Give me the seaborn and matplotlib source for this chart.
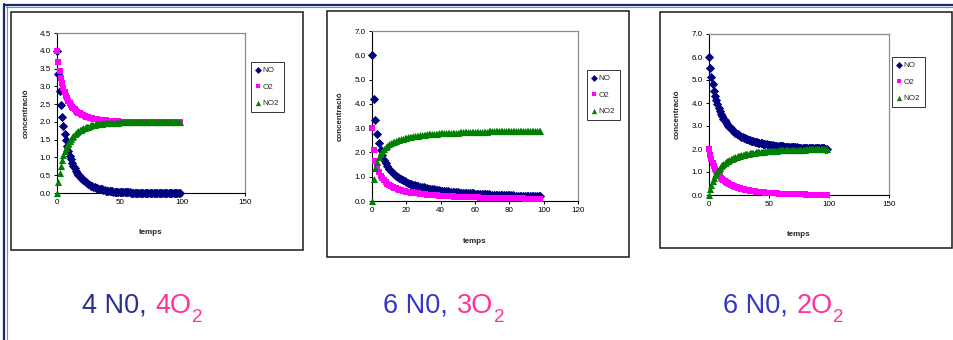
import numpy as np
import matplotlib
matplotlib.use("Agg")
import matplotlib.pyplot as plt
from matplotlib.lines import Line2D
from matplotlib.patches import Rectangle
import seaborn as sns

# ---- data (one point per time step) ----
# chart 1 : 4 NO, 4 O2
no_1 = [4.00, 3.36, 2.87, 2.47, 2.15, 1.89, 1.67, 1.48, 1.32, 1.18,
        1.05, 0.95, 0.85, 0.77, 0.70, 0.63, 0.57, 0.52, 0.47, 0.43,
        0.39, 0.36, 0.33, 0.30, 0.27, 0.25, 0.23, 0.21, 0.19, 0.18,
        0.16, 0.15, 0.14, 0.12, 0.11, 0.10, 0.10, 0.09, 0.08, 0.07,
        0.07, 0.06, 0.06, 0.05, 0.05, 0.04, 0.04, 0.04, 0.03, 0.03,
        0.03, 0.03, 0.02, 0.02, 0.02, 0.02, 0.02, 0.02, 0.02, 0.01,
        0.01, 0.01, 0.01, 0.01, 0.01, 0.01, 0.01, 0.01, 0.01, 0.01,
        0.01, 0.00, 0.00, 0.00, 0.00, 0.00, 0.00, 0.00, 0.00, 0.00,
        0.00, 0.00, 0.00, 0.00, 0.00, 0.00, 0.00, 0.00, 0.00, 0.00,
        0.00, 0.00, 0.00, 0.00, 0.00, 0.00, 0.00, 0.00, 0.00]
o2_1 = [4.00, 3.68, 3.43, 3.24, 3.08, 2.94, 2.83, 2.74, 2.66, 2.59,
        2.53, 2.47, 2.43, 2.39, 2.35, 2.32, 2.29, 2.26, 2.24, 2.22,
        2.20, 2.18, 2.16, 2.15, 2.14, 2.13, 2.11, 2.10, 2.10, 2.09,
        2.08, 2.07, 2.07, 2.06, 2.06, 2.05, 2.05, 2.04, 2.04, 2.04,
        2.03, 2.03, 2.03, 2.03, 2.02, 2.02, 2.02, 2.02, 2.02, 2.02,
        2.01, 2.01, 2.01, 2.01, 2.01, 2.01, 2.01, 2.01, 2.01, 2.01,
        2.01, 2.01, 2.01, 2.01, 2.01, 2.01, 2.00, 2.00, 2.00, 2.00,
        2.00, 2.00, 2.00, 2.00, 2.00, 2.00, 2.00, 2.00, 2.00, 2.00,
        2.00, 2.00, 2.00, 2.00, 2.00, 2.00, 2.00, 2.00, 2.00, 2.00,
        2.00, 2.00, 2.00, 2.00, 2.00, 2.00, 2.00, 2.00, 2.00]
no2_1 = [0.00, 0.32, 0.57, 0.76, 0.92, 1.06, 1.17, 1.26, 1.34, 1.41,
         1.47, 1.53, 1.57, 1.61, 1.65, 1.68, 1.71, 1.74, 1.76, 1.78,
         1.80, 1.82, 1.84, 1.85, 1.86, 1.87, 1.89, 1.90, 1.90, 1.91,
         1.92, 1.93, 1.93, 1.94, 1.94, 1.95, 1.95, 1.96, 1.96, 1.96,
         1.97, 1.97, 1.97, 1.97, 1.98, 1.98, 1.98, 1.98, 1.98, 1.98,
         1.99, 1.99, 1.99, 1.99, 1.99, 1.99, 1.99, 1.99, 1.99, 1.99,
         1.99, 1.99, 1.99, 1.99, 1.99, 1.99, 2.00, 2.00, 2.00, 2.00,
         2.00, 2.00, 2.00, 2.00, 2.00, 2.00, 2.00, 2.00, 2.00, 2.00,
         2.00, 2.00, 2.00, 2.00, 2.00, 2.00, 2.00, 2.00, 2.00, 2.00,
         2.00, 2.00, 2.00, 2.00, 2.00, 2.00, 2.00, 2.00, 2.00]

# chart 2 : 6 NO, 3 O2
no_2 = [6.00, 4.20, 3.32, 2.77, 2.39, 2.10, 1.88, 1.70, 1.56, 1.44,
        1.33, 1.25, 1.17, 1.10, 1.04, 0.99, 0.94, 0.89, 0.85, 0.82,
        0.78, 0.75, 0.72, 0.70, 0.67, 0.65, 0.63, 0.61, 0.59, 0.57,
        0.56, 0.54, 0.53, 0.51, 0.50, 0.49, 0.48, 0.46, 0.45, 0.44,
        0.43, 0.42, 0.42, 0.41, 0.40, 0.39, 0.38, 0.38, 0.37, 0.36,
        0.36, 0.35, 0.34, 0.34, 0.33, 0.33, 0.32, 0.32, 0.31, 0.31,
        0.30, 0.30, 0.29, 0.29, 0.28, 0.28, 0.28, 0.27, 0.27, 0.26,
        0.26, 0.26, 0.25, 0.25, 0.25, 0.24, 0.24, 0.24, 0.24, 0.23,
        0.23, 0.23, 0.23, 0.22, 0.22, 0.22, 0.22, 0.21, 0.21, 0.21,
        0.21, 0.20, 0.20, 0.20, 0.20, 0.20, 0.19, 0.19, 0.19]
o2_2 = [3.00, 2.10, 1.66, 1.38, 1.19, 1.05, 0.94, 0.85, 0.78, 0.72,
        0.67, 0.62, 0.58, 0.55, 0.52, 0.49, 0.47, 0.45, 0.43, 0.41,
        0.39, 0.38, 0.36, 0.35, 0.34, 0.33, 0.32, 0.31, 0.30, 0.29,
        0.28, 0.27, 0.26, 0.26, 0.25, 0.24, 0.24, 0.23, 0.23, 0.22,
        0.22, 0.21, 0.21, 0.20, 0.20, 0.20, 0.19, 0.19, 0.18, 0.18,
        0.18, 0.17, 0.17, 0.17, 0.17, 0.16, 0.16, 0.16, 0.16, 0.15,
        0.15, 0.15, 0.15, 0.14, 0.14, 0.14, 0.14, 0.14, 0.13, 0.13,
        0.13, 0.13, 0.13, 0.13, 0.12, 0.12, 0.12, 0.12, 0.12, 0.12,
        0.12, 0.11, 0.11, 0.11, 0.11, 0.11, 0.11, 0.11, 0.11, 0.10,
        0.10, 0.10, 0.10, 0.10, 0.10, 0.10, 0.10, 0.10, 0.10]
no2_2 = [0.00, 0.90, 1.34, 1.62, 1.81, 1.95, 2.06, 2.15, 2.22, 2.28,
         2.33, 2.38, 2.42, 2.45, 2.48, 2.51, 2.53, 2.55, 2.57, 2.59,
         2.61, 2.62, 2.64, 2.65, 2.66, 2.67, 2.68, 2.69, 2.70, 2.71,
         2.72, 2.73, 2.74, 2.74, 2.75, 2.76, 2.76, 2.77, 2.77, 2.78,
         2.78, 2.79, 2.79, 2.80, 2.80, 2.80, 2.81, 2.81, 2.82, 2.82,
         2.82, 2.83, 2.83, 2.83, 2.83, 2.84, 2.84, 2.84, 2.84, 2.85,
         2.85, 2.85, 2.85, 2.86, 2.86, 2.86, 2.86, 2.86, 2.87, 2.87,
         2.87, 2.87, 2.87, 2.87, 2.88, 2.88, 2.88, 2.88, 2.88, 2.88,
         2.88, 2.89, 2.89, 2.89, 2.89, 2.89, 2.89, 2.89, 2.89, 2.90,
         2.90, 2.90, 2.90, 2.90, 2.90, 2.90, 2.90, 2.90, 2.90]

# chart 3 : 6 NO, 2 O2
no_3 = [6.00, 5.52, 5.13, 4.81, 4.54, 4.31, 4.11, 3.94, 3.78, 3.65,
        3.53, 3.42, 3.32, 3.24, 3.16, 3.08, 3.02, 2.96, 2.90, 2.85,
        2.80, 2.75, 2.71, 2.67, 2.64, 2.60, 2.57, 2.54, 2.52, 2.49,
        2.47, 2.44, 2.42, 2.40, 2.38, 2.36, 2.35, 2.33, 2.31, 2.30,
        2.29, 2.27, 2.26, 2.25, 2.24, 2.23, 2.22, 2.21, 2.20, 2.19,
        2.18, 2.17, 2.17, 2.16, 2.15, 2.15, 2.14, 2.13, 2.13, 2.12,
        2.12, 2.11, 2.11, 2.10, 2.10, 2.09, 2.09, 2.09, 2.08, 2.08,
        2.08, 2.07, 2.07, 2.07, 2.06, 2.06, 2.06, 2.06, 2.05, 2.05,
        2.05, 2.05, 2.05, 2.04, 2.04, 2.04, 2.04, 2.04, 2.04, 2.03,
        2.03, 2.03, 2.03, 2.03, 2.03, 2.03, 2.03, 2.02, 2.02]
o2_3 = [2.00, 1.76, 1.57, 1.41, 1.27, 1.15, 1.06, 0.97, 0.89, 0.82,
        0.76, 0.71, 0.66, 0.62, 0.58, 0.54, 0.51, 0.48, 0.45, 0.42,
        0.40, 0.38, 0.36, 0.34, 0.32, 0.30, 0.29, 0.27, 0.26, 0.25,
        0.23, 0.22, 0.21, 0.20, 0.19, 0.18, 0.17, 0.17, 0.16, 0.15,
        0.14, 0.14, 0.13, 0.12, 0.12, 0.11, 0.11, 0.10, 0.10, 0.09,
        0.09, 0.09, 0.08, 0.08, 0.08, 0.07, 0.07, 0.07, 0.06, 0.06,
        0.06, 0.06, 0.05, 0.05, 0.05, 0.05, 0.05, 0.04, 0.04, 0.04,
        0.04, 0.04, 0.04, 0.03, 0.03, 0.03, 0.03, 0.03, 0.03, 0.03,
        0.03, 0.02, 0.02, 0.02, 0.02, 0.02, 0.02, 0.02, 0.02, 0.02,
        0.02, 0.02, 0.02, 0.01, 0.01, 0.01, 0.01, 0.01, 0.01]
no2_3 = [0.00, 0.24, 0.43, 0.59, 0.73, 0.85, 0.94, 1.03, 1.11, 1.18,
         1.24, 1.29, 1.34, 1.38, 1.42, 1.46, 1.49, 1.52, 1.55, 1.58,
         1.60, 1.62, 1.64, 1.66, 1.68, 1.70, 1.71, 1.73, 1.74, 1.75,
         1.77, 1.78, 1.79, 1.80, 1.81, 1.82, 1.83, 1.83, 1.84, 1.85,
         1.86, 1.86, 1.87, 1.88, 1.88, 1.89, 1.89, 1.90, 1.90, 1.91,
         1.91, 1.91, 1.92, 1.92, 1.92, 1.93, 1.93, 1.93, 1.94, 1.94,
         1.94, 1.94, 1.95, 1.95, 1.95, 1.95, 1.95, 1.96, 1.96, 1.96,
         1.96, 1.96, 1.96, 1.97, 1.97, 1.97, 1.97, 1.97, 1.97, 1.97,
         1.97, 1.98, 1.98, 1.98, 1.98, 1.98, 1.98, 1.98, 1.98, 1.98,
         1.98, 1.98, 1.98, 1.99, 1.99, 1.99, 1.99, 1.99, 1.99]

series_names = ["NO", "O2", "NO2"]
x_label = "temps"
y_label = "concentració"
captions = [("4 N0,", "4O", "2"), ("6 N0,", "3O", "2"), ("6 N0,", "2O", "2")]

# ---- layout (pixel positions on the 954x340 slide) ----
W, H = 954, 340
sns.set_style("white")
plt.rcParams["font.family"] = ["Liberation Sans", "DejaVu Sans"]

fig = plt.figure(figsize=(W / 100, H / 100), dpi=100)


def fx(px):
    return px / W


def fy(py):
    return 1 - py / H


# slide border (top and left)
fig.add_artist(Line2D([fx(4), 1], [fy(4.5), fy(4.5)], color="#14286e", lw=1.6,
                      transform=fig.transFigure))
fig.add_artist(Line2D([fx(4.5), fx(4.5)], [fy(4), 0], color="#14286e", lw=1.6,
                      transform=fig.transFigure))
fig.add_artist(Line2D([fx(6), 1], [fy(6.5), fy(6.5)], color="#6f8fd0", lw=0.8,
                      transform=fig.transFigure))
fig.add_artist(Line2D([fx(6.7), fx(6.7)], [fy(6), 0], color="#6f8fd0", lw=0.8,
                      transform=fig.transFigure))

charts = [
    dict(data=(no_1, o2_1, no2_1), frame=(11, 12, 303, 250), box=(57, 33, 245, 193),
         xmax=150, xstep=50, ymax=4.5, ystep=0.5, leg=(251, 62), ylx=-0.145, xly=-0.225),
    dict(data=(no_2, o2_2, no2_2), frame=(327, 11, 629, 257), box=(372, 31, 578, 201),
         xmax=120, xstep=20, ymax=7.0, ystep=1.0, leg=(587, 70), ylx=-0.135, xly=-0.215),
    dict(data=(no_3, o2_3, no2_3), frame=(660, 12, 952, 248), box=(709, 34, 889, 195),
         xmax=150, xstep=50, ymax=7.0, ystep=1.0, leg=(892, 57), ylx=-0.155, xly=-0.224),
]

colors = ["#000080", "#ff00ff", "#008000"]
markers = ["D", "s", "^"]
msizes = [22, 20, 26]

for c in charts:
    x0, y0, x1, y1 = c["frame"]
    fig.add_artist(Rectangle((fx(x0), fy(y1)), (x1 - x0) / W, (y1 - y0) / H,
                             transform=fig.transFigure, fill=False,
                             edgecolor="#1a1a1a", lw=1.1))
    l, t, r, b = c["box"]
    ax = fig.add_axes([fx(l), fy(b), (r - l) / W, (b - t) / H])

    for vals, name, col, mk, ms in zip(c["data"], series_names, colors, markers, msizes):
        sns.scatterplot(x=np.arange(len(vals)), y=vals, ax=ax, color=col, marker=mk,
                        s=ms, linewidth=0, label=name, clip_on=False, zorder=3)

    ax.set_xlim(0, c["xmax"])
    ax.set_ylim(0, c["ymax"])
    ax.set_xticks(np.arange(0, c["xmax"] + 0.1, c["xstep"]))
    ax.set_yticks(np.arange(0, c["ymax"] + 0.01, c["ystep"]))
    ax.set_yticklabels([f"{v:.1f}" for v in ax.get_yticks()])
    ax.tick_params(axis="both", direction="out", length=2.5, width=0.7, pad=2,
                   labelsize=5.8, colors="black", left=True, bottom=True)
    for side in ["top", "right"]:
        ax.spines[side].set_color("#8c8c8c")
        ax.spines[side].set_linewidth(0.9)
    for side in ["left", "bottom"]:
        ax.spines[side].set_color("black")
        ax.spines[side].set_linewidth(0.8)

    ax.set_xlabel(x_label, fontsize=5.8, fontweight="bold")
    ax.set_ylabel(y_label, fontsize=5.8, fontweight="bold")
    ax.xaxis.set_label_coords(0.5, c["xly"])
    ax.yaxis.set_label_coords(c["ylx"], 0.5)

    lx, ly = c["leg"]
    leg = ax.legend(loc="upper left", bbox_to_anchor=(fx(lx), fy(ly)),
                    bbox_transform=fig.transFigure, frameon=True, fancybox=False,
                    edgecolor="black", fontsize=5.8, handlelength=0.6,
                    handletextpad=0.3, borderpad=0.55, labelspacing=1.1,
                    borderaxespad=0, markerscale=0.75)
    leg.get_frame().set_linewidth(0.7)

# ---- captions under the charts ----
fig.canvas.draw()
renderer = fig.canvas.get_renderer()
cap_x = [82, 383, 723]
left_cols = ["#2e2e8f", "#3535c8", "#3535c8"]
pink = "#ff3399"
for (left, mid, sub), x, lc in zip(captions, cap_x, left_cols):
    t1 = fig.text(fx(x), fy(313), left, color=lc, fontsize=19.5, va="baseline")
    bb = t1.get_window_extent(renderer)
    t2 = fig.text((bb.x1 + 9) / W, fy(313), mid, color=pink, fontsize=19.5,
                  va="baseline")
    bb2 = t2.get_window_extent(renderer)
    fig.text((bb2.x1 + 0.5) / W, fy(322), sub, color=pink, fontsize=13.5,
             va="baseline")

fig.savefig("out.png", dpi=100)
